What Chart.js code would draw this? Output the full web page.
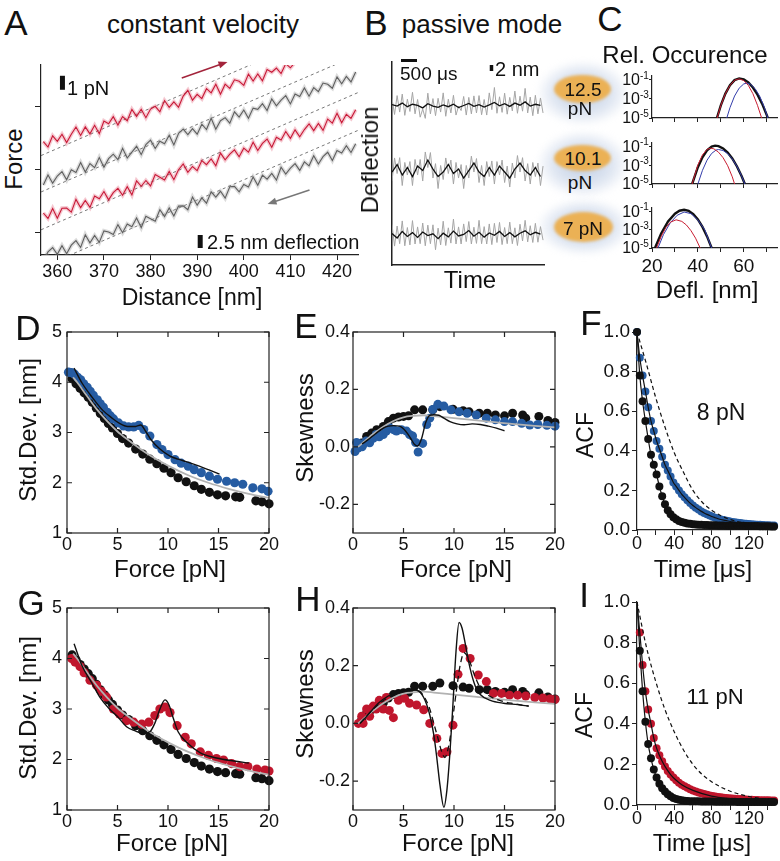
<!DOCTYPE html>
<html><head><meta charset="utf-8">
<script src="https://cdn.jsdelivr.net/npm/chart.js@4.4.0/dist/chart.umd.min.js"></script>
<style>
html,body{margin:0;padding:0;background:#fff;}
#wrap{position:relative;width:780px;height:861px;overflow:hidden;background:#fff;font-family:'Liberation Sans',Arial,sans-serif;color:#111;}
canvas{position:absolute;z-index:2;}
.t{position:absolute;white-space:nowrap;line-height:1;transform:translate(-50%,-50%);z-index:5;}
.t.l{transform:translate(0,-50%);}
.t.r{transform:translate(-50%,-50%) rotate(-90deg);}
.glow{position:absolute;border-radius:50%;z-index:1;background:radial-gradient(closest-side,rgba(188,203,226,0.95),rgba(205,216,234,0.65) 62%,rgba(255,255,255,0) 100%);filter:blur(3px);}
.org{position:absolute;border-radius:50%;z-index:1;background:#ebb155;filter:blur(1.5px);}
</style></head><body><div id="wrap"></div>
<script>
// ---------------- DATA ----------------
// Panel A (constant velocity), distance [nm] and force [pN]
const distA=[357,358,359,360,361,362,363,364,365,366,367,368,369,370,371,372,373,374,375,376,377,378,379,380,381,382,383,384,385,386,387,388,389,390,391,392,393,394,395,396,397,398,399,400,401,402,403,404,405,406,407,408,409,410,411,412,413,414,415,416,417,418,419,420,421,422,423,424];
const traceA1=[8.1,7.71,8.51,8.12,8.62,8.03,8.63,9.14,8.54,9.15,8.65,9.26,8.66,9.57,9.37,9.88,9.28,9.89,9.59,10.4,9.9,10.41,9.81,10.42,10.62,10.23,11.03,10.54,10.94,10.55,11.35,11.76,11.06,11.47,11.17,11.88,11.58,12.19,11.49,12.2,11.9,12.51,12.41,12.12,12.92,12.43,12.93,12.44,13.24,13.05,13.35,12.96,13.66,13.37,13.77];
const traceA2=[5.0,5.71,5.13,5.64,5.95,5.37,6.08,5.89,6.6,5.92,6.53,6.24,6.96,6.27,6.88,7.2,6.81,7.62,6.93,7.35,7.76,7.17,7.89,8.2,7.61,8.13,7.94,8.55,7.86,8.68,8.99,8.6,9.02,8.63,9.34,8.96,9.77,8.98,9.59,9.81,9.42,10.23,9.85,10.36,9.77,10.49,10.4,10.81,10.32,11.14,10.65,11.06,11.38,10.79,11.5,11.32,11.93,11.34,11.95,11.67,12.28,12.19,11.91,12.72,12.23,12.75,12.36,13.07];
const traceA3=[3.0,2.61,3.32,2.63,3.34,3.35,3.06,3.97,3.38,3.89,3.4,4.21,4.02,4.53,3.94,4.45,4.76,4.27,4.88,4.29,5.3,4.91,5.32,4.93,5.74,5.55,5.36,5.97,5.38,6.09,6.5,5.91,6.32,6.03,6.74,6.45,6.86,6.37,7.28,6.79,7.2,7.51,7.02,7.63,7.34,8.05,7.46,7.97,8.28,7.69,8.4,8.21,8.82,8.33,8.94,8.45,8.96,9.37,8.88,9.39,8.9,9.71,9.42,10.13,9.44,10.05,9.76,10.37];
const traceA4=[-0.4,0.22,0.53,0.05,0.67,0.09,0.7,1.02,0.54,1.45,0.87,1.39,0.9,1.72,1.64,1.46,2.17,1.59,2.21,2.02,2.64,1.96,2.77,2.59,2.41,3.23,2.74,3.36,2.78,3.49,3.51,3.23,4.14,3.56,4.08,3.7,4.51,4.13,4.55,4.06,4.88,4.9,4.51,5.03,4.85,5.57,4.98,5.7,5.42,5.83,5.35,6.27,5.78,6.2,6.52,6.04,6.65,6.37,7.09,6.5,7.02,7.34,6.75,7.47,7.29,7.81,7.32,7.94];
const dashXA=[356.5,424.5];
const dashA1=[7.1,16.9], dashA2=[4.5,14.3], dashA3=[1.8,11.6], dashA4=[-0.9,8.9];
const ticksXA=[360,370,380,390,400,410,420];
const ticksYA=[1.6,6.1,10.6];
const barPN_X=[361.1,361.1], barPN_Y=[11.8,12.8];
const barDefl_X=[390.65,390.65], barDefl_Y=[0.5,1.43];

// Panel B (passive mode), time [us] and deflection [nm]
const timeGrayB=[0,80,160,240,320,400,480,560,640,720,800,880,960,1040,1120,1200,1280,1360,1440,1520,1600,1680,1760,1840,1920,2000,2080,2160,2240,2320,2400,2480,2560,2640,2720,2800,2880,2960,3040,3120,3200,3280,3360,3440,3520,3600,3680,3760,3840,3920,4000,4080,4160,4240,4320,4400,4480,4560,4640,4720];
const timeBlackB=[0,160,320,480,640,800,960,1120,1280,1440,1600,1760,1920,2080,2240,2400,2560,2720,2880,3040,3200,3360,3520,3680,3840,4000,4160,4320,4480,4640];
const grayB1=[55.5,50.2,56.5,51.0,57.0,49.9,55.3,51.2,57.6,50.4,55.2,49.3,52.0,48.9,57.3,50.4,55.5,49.8,55.6,51.0,57.4,49.6,55.3,50.7,56.6,50.0,53.0,51.5,56.2,50.0,55.9,50.4,56.4,50.7,56.5,50.1,55.2,50.0,57.4,51.8,59.2,50.6,56.1,50.9,57.3,50.3,55.9,51.4,58.0,50.6,56.3,51.3,58.9,50.7,56.0,49.8,56.6,50.4,55.7,50.7];
const blackB1=[53.5,53.0,54.0,52.8,53.6,53.2,52.4,53.8,53.0,52.6,53.4,52.8,53.6,52.5,53.2,53.9,52.9,53.5,52.7,53.4,54.2,53.1,53.8,52.9,54.0,53.3,54.4,53.0,53.6,53.2];
const grayB2=[28.0,35.7,30.5,35.8,26.5,34.2,30.0,34.5,26.5,35.2,30.0,35.2,28.0,37.7,32.5,37.5,29.0,33.8,25.5,33.2,28.5,35.7,30.5,35.0,27.0,34.2,29.0,33.5,25.5,33.2,29.0,36.3,31.0,35.5,27.5,33.2,26.5,34.5,29.5,34.7,27.0,34.5,30.0,35.0,27.5,33.0,26.0,34.0,29.0,36.5,31.0,35.8,28.0,33.8,27.0,34.2,29.5,34.0,26.5,33.0];
const blackB2=[31.0,33.5,30.0,32.5,29.5,33.0,31.5,35.0,32.0,29.5,31.0,33.5,30.5,32.0,29.0,31.5,34.0,31.0,29.5,32.5,30.0,33.0,31.0,29.0,32.0,34.0,31.5,30.0,32.5,29.5];
const grayB3=[13.5,6.3,13.0,7.1,14.7,6.4,12.5,6.7,14.8,7.0,12.7,7.1,14.0,6.4,13.3,7.1,13.4,5.1,12.3,6.7,14.6,6.5,12.4,7.3,15.3,7.0,12.7,7.0,13.7,7.8,14.5,7.0,12.6,7.2,14.9,7.1,12.8,7.0,13.7,6.8,13.9,7.5,14.2,6.8,12.5,7.1,14.3,7.1,12.4,6.5,13.6,8.0,14.9,7.7,13.1,7.5,13.9,7.6,12.8,8.3];
const blackB3=[10.5,9.0,11.2,9.5,10.8,9.2,11.0,9.8,10.4,8.8,10.6,9.4,11.3,9.7,10.2,11.5,9.6,10.9,9.3,10.7,9.9,11.2,9.5,10.8,9.4,10.6,11.4,10.1,10.9,10.3];
const bar500_X=[281,781], bar500_Y=[68.2,68.2];
const bar2nm_X=[3109,3109], bar2nm_Y=[64.7,66.7];

// Panel C (relative occurrence vs deflection [nm])
const cTicksX=[20,30,40,50,60,70];
const cTickVals=[1e-1,1e-3,1e-5], cTickExp=['-1','-3','-5'];
const c1BlackX=[48.3,50,52,54,56,58,60,62,64,66,68,70,70.5];
const c1BlackY=[1e-5,2.1e-4,3.6e-3,0.027,0.093,0.141,0.11,0.054,0.0155,2.8e-3,3.2e-4,2.1e-5,1e-5];
const c1RedX=[48.4,50,52,54,56,58,60,62,64,66,67.8];
const c1RedY=[1e-5,2e-4,3.5e-3,0.026,0.09,0.126,0.085,0.026,3.5e-3,2.1e-4,1e-5];
const c1BlueX=[52.6,54,56,58,60,61.3,63,65,67,69,70.5];
const c1BlueY=[1e-5,1.2e-4,2e-3,0.0133,0.037,0.0447,0.034,0.0114,1.8e-3,1.3e-4,1e-5];
const c2BlackX=[37.5,40,42,44,46,47.5,49,51,53,55,57,59,60.5];
const c2BlackY=[1e-5,6.3e-4,7.4e-3,0.041,0.105,0.13,0.115,0.066,0.024,5.5e-3,8e-4,7.6e-5,1e-5];
const c2RedX=[37.5,40,42,44,45.5,47,49,51,53,55,56];
const c2RedY=[1e-5,1.1e-3,0.013,0.052,0.07,0.059,0.026,6.6e-3,9.1e-4,5.9e-5,1e-5];
const c2BlueX=[40,42,44,46,48,49,51,53,55,57,59,60.5];
const c2BlueY=[1e-5,2.9e-4,3.6e-3,0.019,0.045,0.05,0.039,0.018,4.9e-3,8.1e-4,8e-5,1e-5];
const c3BlackX=[21.3,24,27,30,32,34,36,38,40,42,44,46];
const c3BlackY=[1e-5,4e-4,8.3e-3,0.06,0.125,0.158,0.12,0.054,0.014,2.1e-3,1.9e-4,1e-5];
const c3RedX=[22,24,26,28,30.5,33,35,37,39,41];
const c3RedY=[1e-5,1.9e-4,1.7e-3,6.8e-3,0.0126,8.4e-3,3.4e-3,8e-4,1.2e-4,1e-5];
const c3BlueX=[22.6,25,28,31,34,37,40,43,46];
const c3BlueY=[1e-5,3e-4,6e-3,0.04,0.09,0.06,0.012,1e-3,1e-5];

// Panels D / G : standard deviation [nm] vs force [pN]
const forceBlack=[0.5,0.9,1.3,1.7,2.1,2.5,2.9,3.3,3.7,4.1,4.5,5.0,5.5,6.1,6.8,7.5,8.2,8.9,9.6,10.3,11.0,11.8,12.6,13.3,14.1,14.9,15.7,16.7,17.1,18.7,19.3,20.0];
const sdBlack=[4.07,3.97,3.88,3.79,3.7,3.6,3.49,3.38,3.28,3.18,3.09,2.98,2.88,2.79,2.67,2.57,2.47,2.38,2.29,2.2,2.1,2.02,1.94,1.87,1.81,1.76,1.74,1.72,1.71,1.64,1.62,1.58];
const forceFit=[0.6,1,2,3,4,5,6,8,10,12,14,16,18,20];
const sdFit=[4.1,4.0,3.72,3.45,3.22,3.02,2.86,2.57,2.34,2.15,2.0,1.88,1.78,1.7];
const forceBlueD=[0.15,0.45,0.75,1.05,1.35,1.65,2.0,2.3,2.6,3.0,3.3,3.6,4.0,4.3,4.6,5.1,5.6,6.1,6.6,7.1,7.6,8.2,8.9,9.4,10.0,10.7,11.3,12.0,12.6,13.3,14.1,14.9,15.8,16.6,17.4,18.4,19.3,19.9];
const sdBlueD=[4.2,4.19,4.16,4.1,4.05,3.97,3.9,3.82,3.74,3.65,3.57,3.5,3.4,3.33,3.27,3.19,3.13,3.11,3.11,3.14,3.06,2.93,2.76,2.66,2.56,2.46,2.39,2.33,2.26,2.2,2.13,2.07,2.03,2.0,1.97,1.9,1.88,1.83];
const forceModelD=[0.7,1.5,2.5,3.5,4.5,5.2,6.0,6.8,7.3,7.8,8.3,9.2,10.2,11.0,11.8,13.1,14.0,15.1];
const sdModelD=[4.28,3.98,3.7,3.45,3.28,3.18,3.12,3.12,3.15,3.02,2.86,2.67,2.53,2.47,2.42,2.33,2.26,2.17];
const forceRedG=[0.46,0.8,1.29,1.7,2.28,2.94,3.4,3.9,4.6,5.2,5.9,6.6,7.4,8.1,8.7,9.2,9.7,10.2,10.9,11.7,12.3,13.2,14.0,14.8,15.5,16.3,17.1,17.9,18.8,19.6,20.0];
const sdRedG=[4.0,3.93,3.84,3.72,3.57,3.47,3.35,3.24,3.0,2.9,2.77,2.74,2.7,2.74,2.87,3.0,3.04,2.93,2.67,2.44,2.31,2.15,2.08,2.02,1.99,1.92,1.86,1.86,1.81,1.79,1.77];
const forceModelG=[0.7,1.5,2.5,3.3,4.2,5.0,5.9,6.7,7.5,8.2,8.7,9.2,9.7,10.1,10.5,11.0,11.9,13.2,14.8,16.5,18.0];
const sdModelG=[4.29,3.85,3.5,3.22,3.0,2.85,2.65,2.57,2.52,2.55,2.72,3.0,3.18,3.08,2.83,2.55,2.33,2.13,2.03,1.97,1.93];
const ticksForce=[0,5,10,15,20];
const ticksSD=[1,2,3,4,5];

// Panels E / H : skewness vs force [pN]
const forceSkBlack=[0.86,1.35,1.85,2.35,3.0,3.5,4.0,4.5,5.0,5.5,6.1,6.9,7.9,8.6,9.9,10.9,11.5,12.5,13.3,14.1,15.0,15.8,16.8,17.1,18.4,19.3,20.0];
const skBlack=[0.013,0.036,0.048,0.06,0.071,0.088,0.1,0.104,0.106,0.108,0.129,0.129,0.129,0.14,0.131,0.126,0.122,0.117,0.117,0.111,0.108,0.117,0.111,0.1,0.106,0.092,0.085];
const forceSkBlue=[0.2,0.35,0.5,0.7,0.9,1.0,1.3,1.65,2.0,2.3,2.6,3.0,3.3,3.6,4.0,4.3,4.8,5.3,5.6,5.9,6.2,6.45,6.9,7.3,7.6,7.9,8.4,9.0,9.7,10.5,11.3,12.2,13.2,14.1,15.0,15.8,16.7,17.5,18.3,19.2,20.0];
const skBlue=[-0.016,0.015,-0.004,0.01,0.0,0.008,0.02,0.014,0.03,0.043,0.035,0.043,0.055,0.067,0.06,0.055,0.06,0.055,0.043,0.038,0.015,-0.018,0.012,0.078,0.1,0.13,0.148,0.142,0.129,0.122,0.117,0.111,0.1,0.094,0.088,0.088,0.082,0.076,0.078,0.075,0.072];
const forceModelE=[0.9,1.5,2.2,3.0,3.5,4.0,4.6,5.2,5.7,6.1,6.4,6.8,7.2,7.6,8.0,8.5,9.0,9.6,10.3,11.0,11.8,12.6,13.4,14.2,15.0];
const skModelE=[0.01,0.025,0.045,0.065,0.072,0.074,0.072,0.055,0.03,0.008,0.003,0.03,0.085,0.11,0.112,0.11,0.1,0.088,0.08,0.077,0.08,0.078,0.072,0.065,0.056];
const forceSkFit=[0.5,1,2,3,4,5,6,7,8,10,12,14,16,18,20];
const skFit=[0.0,0.015,0.045,0.07,0.09,0.103,0.108,0.11,0.107,0.1,0.093,0.086,0.079,0.073,0.068];
const forceRedH=[0.53,0.86,1.0,1.35,1.65,2.0,2.3,2.6,3.0,3.3,3.6,4.0,4.5,5.1,5.6,6.3,7.0,7.6,8.3,8.8,9.3,9.9,10.4,10.9,11.6,12.4,13.2,13.9,14.7,15.5,16.3,17.1,18.0,18.8,19.5,20.0];
const skRedH=[0.0,0.025,0.0,0.05,0.025,0.06,0.05,0.08,0.05,0.09,0.045,0.02,0.08,0.087,0.07,0.064,0.047,0.0,-0.052,-0.104,-0.098,-0.006,0.17,0.26,0.225,0.168,0.145,0.104,0.104,0.098,0.098,0.095,0.09,0.088,0.085,0.083];
const forceModelH=[0.7,1.5,2.5,3.5,4.5,5.5,6.3,7.0,7.6,8.0,8.3,8.6,9.0,9.3,9.6,9.9,10.2,10.5,10.8,11.2,11.6,12.1,12.6,13.6,14.9,16.3,17.4];
const skModelH=[0.0,0.03,0.07,0.095,0.11,0.117,0.115,0.09,0.03,-0.04,-0.12,-0.21,-0.29,-0.23,-0.1,0.07,0.25,0.35,0.33,0.26,0.19,0.13,0.1,0.08,0.07,0.065,0.06];
const forceDashH=[0.7,2.0,3.5,5.0,6.3,7.0,7.6,8.0,8.4,8.8,9.1,9.4,9.7,10.0,10.3,10.6,11.0,11.5,12.0,12.5,13.3,14.5,16.0,17.4];
const skDashH=[0.0,0.05,0.09,0.11,0.115,0.095,0.05,0.0,-0.05,-0.1,-0.118,-0.09,-0.03,0.05,0.13,0.2,0.245,0.22,0.17,0.13,0.1,0.08,0.068,0.06];
const ticksSk=[-0.2,0,0.2,0.4];

// Panels F / I : autocorrelation vs time [us]
const timeACF=[0,3,6,9,12,15,18,21,24,27,30,33,36,39,42,45,48,51,54,57,60,63,66,69,72,75,78,81,84,87,90,93,96,99,102,105,108,111,114,117,120,123,126,129,132,135,138,141,144,147];
const acfBlackF=[1.0,0.78,0.65,0.55,0.46,0.38,0.33,0.28,0.22,0.17,0.13,0.1,0.08,0.065,0.054,0.046,0.04,0.036,0.033,0.031,0.029,0.028,0.027,0.026,0.025,0.025,0.024,0.024,0.024,0.023,0.023,0.023,0.022,0.022,0.022,0.021,0.021,0.021,0.021,0.02,0.02,0.02,0.02,0.02,0.019,0.019,0.019,0.019,0.018,0.018];
const acfBlueF=[1.0,0.87,0.78,0.7,0.62,0.55,0.5,0.45,0.41,0.37,0.33,0.3,0.27,0.24,0.22,0.2,0.18,0.165,0.15,0.136,0.124,0.113,0.103,0.094,0.086,0.079,0.073,0.067,0.062,0.057,0.053,0.05,0.047,0.044,0.041,0.039,0.037,0.035,0.033,0.031,0.03,0.029,0.028,0.027,0.026,0.025,0.024,0.024,0.023,0.023];
const timeACFI=[3,6,9,12,15,18,21,24,27,30,33,36,39,42,45,48,51,54,57,60,63,66,69,72,75,78,81,84,87,90,93,96,99,102,105,108,111,114,117,120,123,126,129,132,135,138,141,144,147];
const acfBlackI=[0.76,0.56,0.41,0.3,0.23,0.175,0.135,0.105,0.083,0.066,0.053,0.043,0.035,0.03,0.026,0.023,0.021,0.02,0.019,0.018,0.018,0.018,0.017,0.017,0.017,0.017,0.017,0.016,0.016,0.016,0.016,0.016,0.016,0.016,0.016,0.015,0.015,0.015,0.015,0.015,0.015,0.015,0.015,0.015,0.015,0.015,0.015,0.015,0.015];
const acfRedI=[0.85,0.69,0.56,0.47,0.4,0.33,0.28,0.245,0.215,0.19,0.168,0.15,0.135,0.122,0.11,0.1,0.092,0.085,0.078,0.072,0.067,0.062,0.058,0.054,0.05,0.047,0.044,0.042,0.04,0.038,0.036,0.034,0.033,0.032,0.031,0.03,0.029,0.028,0.027,0.026,0.026,0.025,0.025,0.024,0.024,0.023,0.023,0.022,0.022];
const timeModelI=[0,3,6,9,12,15,18,21,24,27,30,36,42,48,60,80,100,120,147];
const modelBlackI=[1.0,0.76,0.56,0.41,0.3,0.23,0.175,0.135,0.105,0.083,0.066,0.043,0.03,0.023,0.018,0.017,0.016,0.015,0.015];
const modelRedI=[1.0,0.85,0.69,0.56,0.47,0.4,0.33,0.28,0.245,0.215,0.19,0.15,0.122,0.1,0.072,0.044,0.032,0.026,0.022];
const timeDash=[0,10,20,30,40,50,60,70,80,90,100,110,120,130,140,148];
const dashF=[1.0,0.84,0.67,0.52,0.39,0.29,0.2,0.14,0.1,0.072,0.053,0.04,0.032,0.026,0.022,0.02];
const dashI=[1.0,0.78,0.61,0.47,0.36,0.27,0.2,0.15,0.115,0.088,0.068,0.053,0.042,0.034,0.028,0.025];
const ticksTime=[0,20,40,60,80,100,120,140];
const ticksACF=[0,0.2,0.4,0.6,0.8,1.0];

// ---------------- STYLE ----------------
const RED='rgb(192,22,45)', BLUE='rgb(38,92,162)', BLK='#111', GRAYFIT='rgb(178,178,178)';
const REDA='rgb(200,25,55)', REDA_BAND='rgba(220,60,90,0.28)', GRAYA='rgb(95,95,95)', GRAYA_BAND='rgba(140,140,140,0.3)';
Chart.defaults.font.family="'Liberation Sans', Arial, sans-serif";
Chart.defaults.color='#111';
const wrap=document.getElementById('wrap');
const zip=(xs,ys)=>ys.map((y,i)=>({x:xs[i],y}));

function axis(min,max,ticks,o={}){
  return {type:o.type||'linear',min,max,
    afterBuildTicks:s=>{s.ticks=ticks.map(v=>({value:v}));},
    grid:{display:true,drawOnChartArea:false,drawTicks:!!o.tl,tickLength:o.tl||0,color:'#222',lineWidth:1},
    border:{display:o.border!==false,color:'#222',width:o.bw||1.2},
    ticks:{display:!!o.labels,autoSkip:false,maxRotation:0,minRotation:0,padding:(o.pad===undefined?3:o.pad),color:'#111',
      font:{size:o.fs||18,lineHeight:1},callback:o.cb||(v=>v)}};
}
function mk(box,m,cfg){
  const c=document.createElement('canvas');
  const w=box.r-box.l+m.yW+m.pR, h=box.b-box.t+m.pT+m.xH;
  c.width=w;c.height=h;
  c.style.left=(box.l-m.yW)+'px';c.style.top=(box.t-m.pT)+'px';
  c.style.width=w+'px';c.style.height=h+'px';
  wrap.appendChild(c);
  cfg.scales.x.afterFit=s=>{s.height=m.xH;};
  cfg.scales.y.afterFit=s=>{s.width=m.yW;};
  cfg.scales.x.position='bottom';cfg.scales.y.position='left';
  return new Chart(c,{type:'scatter',data:{datasets:cfg.datasets},
    options:{responsive:false,animation:false,devicePixelRatio:1,events:[],
      layout:{padding:{top:m.pT,right:m.pR,left:0,bottom:0}},
      scales:cfg.scales,plugins:{legend:{display:false},tooltip:{enabled:false}}},
    plugins:cfg.plugins||[]});
}
const dots=(xs,ys,col,r)=>({data:zip(xs,ys),showLine:false,pointRadius:r||4.5,pointBackgroundColor:col,pointBorderWidth:0,clip:false});
const line=(xs,ys,col,w,o)=>Object.assign({data:zip(xs,ys),showLine:true,pointRadius:0,borderColor:col,borderWidth:w||1.2,fill:false},o||{});
const smooth={cubicInterpolationMode:'monotone'};

const boxTicks={id:'boxTicks',afterDraw(chart){
  const {ctx,chartArea:a,scales:{x,y}}=chart;const L=5;
  ctx.save();ctx.strokeStyle='#222';ctx.lineWidth=1.2;
  ctx.strokeRect(a.left,a.top,a.right-a.left,a.bottom-a.top);
  ctx.beginPath();
  x.ticks.forEach(t=>{const p=x.getPixelForValue(t.value);ctx.moveTo(p,a.top);ctx.lineTo(p,a.top+L);ctx.moveTo(p,a.bottom);ctx.lineTo(p,a.bottom-L);});
  y.ticks.forEach(t=>{const p=y.getPixelForValue(t.value);ctx.moveTo(a.left,p);ctx.lineTo(a.left+L,p);ctx.moveTo(a.right,p);ctx.lineTo(a.right-L,p);});
  ctx.stroke();ctx.restore();}};

function arrowPlugin(list){return {id:'arrows',afterDatasetsDraw(chart){
  const {ctx,scales:{x,y}}=chart;ctx.save();
  list.forEach(a=>{const x0=x.getPixelForValue(a.from[0]),y0=y.getPixelForValue(a.from[1]),x1=x.getPixelForValue(a.to[0]),y1=y.getPixelForValue(a.to[1]);
    const ang=Math.atan2(y1-y0,x1-x0),L=9,W=3.5;
    ctx.strokeStyle=a.color;ctx.fillStyle=a.color;ctx.lineWidth=1.5;
    ctx.beginPath();ctx.moveTo(x0,y0);ctx.lineTo(x1-L*0.7*Math.cos(ang),y1-L*0.7*Math.sin(ang));ctx.stroke();
    ctx.beginPath();ctx.moveTo(x1,y1);
    ctx.lineTo(x1-L*Math.cos(ang)+W*Math.sin(ang),y1-L*Math.sin(ang)-W*Math.cos(ang));
    ctx.lineTo(x1-L*Math.cos(ang)-W*Math.sin(ang),y1-L*Math.sin(ang)+W*Math.cos(ang));ctx.closePath();ctx.fill();});
  ctx.restore();}};}

function supPlugin(vals,exps){return {id:'sup',afterDraw(chart){
  const {ctx,chartArea:a,scales:{y}}=chart;ctx.save();ctx.fillStyle='#111';
  vals.forEach((v,i)=>{const p=y.getPixelForValue(v);
    ctx.font="16px 'Liberation Sans', Arial";ctx.textAlign='right';ctx.textBaseline='middle';ctx.fillText('10',a.left-12,p+1);
    ctx.font="10px 'Liberation Sans', Arial";ctx.textAlign='left';ctx.fillText(exps[i],a.left-12,p-4);});
  ctx.restore();}};}

// ---------------- PANEL A ----------------
mk({l:41,t:65,r:358,b:255},{yW:12,xH:30,pT:12,pR:25},{
  datasets:[
    line(barPN_X,barPN_Y,BLK,5,{clip:false,borderCapStyle:'butt'}),
    line(barDefl_X,barDefl_Y,BLK,5,{clip:false,borderCapStyle:'butt'}),
    line(distA,traceA1,REDA,1.1),
    line(distA,traceA2,GRAYA,1.1),
    line(distA,traceA3,REDA,1.1),
    line(distA,traceA4,GRAYA,1.1),
    line(distA,traceA1,REDA_BAND,4),
    line(distA,traceA2,GRAYA_BAND,4),
    line(distA,traceA3,REDA_BAND,4),
    line(distA,traceA4,GRAYA_BAND,4),
    line(dashXA,dashA1,'#555',0.8,{borderDash:[3,3]}),
    line(dashXA,dashA2,'#555',0.8,{borderDash:[3,3]}),
    line(dashXA,dashA3,'#555',0.8,{borderDash:[3,3]}),
    line(dashXA,dashA4,'#555',0.8,{borderDash:[3,3]})],
  scales:{x:axis(356.5,424.5,ticksXA,{tl:5,labels:true,pad:3,fs:18}),y:axis(0,13.57,ticksYA,{tl:6})},
  plugins:[arrowPlugin([{from:[386.7,12.64],to:[396.5,13.79],color:'rgb(163,36,59)'},{from:[414.1,4.64],to:[405.1,3.64],color:'#777'}])]
});

// ---------------- PANEL B ----------------
mk({l:392,t:62,r:544,b:265},{yW:6,xH:6,pT:10,pR:6},{
  datasets:[
    line(bar500_X,bar500_Y,BLK,3,{clip:false,borderCapStyle:'butt'}),
    line(bar2nm_X,bar2nm_Y,BLK,3.5,{clip:false,borderCapStyle:'butt'}),
    line(timeBlackB,blackB1,BLK,1.3),line(timeBlackB,blackB2,BLK,1.3),line(timeBlackB,blackB3,BLK,1.3),
    line(timeGrayB,grayB1,'rgb(165,165,165)',1),line(timeGrayB,grayB2,'rgb(165,165,165)',1),line(timeGrayB,grayB3,'rgb(165,165,165)',1)],
  scales:{x:axis(0,4750,[],{bw:1.5}),y:axis(0,67.7,[],{bw:1.5})}
});

// ---------------- PANEL C ----------------
function cChart(t,b,bx,by,rx,ry,ux,uy,showX){
  mk({l:652,t,r:777,b},{yW:45,xH:showX?32:8,pT:6,pR:3},{
    datasets:[line(rx,ry,'rgb(200,30,50)',1),line(ux,uy,'rgb(50,60,170)',1),line(bx,by,BLK,2.4)],
    scales:{x:axis(20,74.5,cTicksX,{tl:4,labels:showX,pad:5,fs:19,cb:v=>(v%20===0?v:'')}),
            y:axis(1e-5,0.25,cTickVals,{type:'logarithmic',tl:3})},
    plugins:[supPlugin(cTickVals,cTickExp)]});
}
cChart(76,118,c1BlackX,c1BlackY,c1RedX,c1RedY,c1BlueX,c1BlueY,false);
cChart(143,184,c2BlackX,c2BlackY,c2RedX,c2RedY,c2BlueX,c2BlueY,false);
cChart(208,248,c3BlackX,c3BlackY,c3RedX,c3RedY,c3BlueX,c3BlueY,true);

// ---------------- PANELS D / G ----------------
const sdScales=()=>({x:axis(0,20,ticksForce,{labels:true,pad:3,border:false}),y:axis(1,5,ticksSD,{labels:true,pad:5,border:false})});
mk({l:67,t:332,r:269,b:533},{yW:40,xH:30,pT:14,pR:20},{
  datasets:[line(forceModelD,sdModelD,BLK,1.4,smooth),line(forceFit,sdFit,GRAYFIT,1.8,smooth),
    dots(forceBlueD,sdBlueD,BLUE,4.6),dots(forceBlack,sdBlack,BLK,4.6)],
  scales:sdScales(),plugins:[boxTicks]});
mk({l:67,t:608,r:269,b:810},{yW:40,xH:30,pT:14,pR:20},{
  datasets:[line(forceModelG,sdModelG,BLK,1.4,smooth),line(forceFit,sdFit,GRAYFIT,1.8,smooth),
    dots(forceRedG,sdRedG,RED,4.6),dots(forceBlack,sdBlack,BLK,4.6)],
  scales:sdScales(),plugins:[boxTicks]});

// ---------------- PANELS E / H ----------------
const skScales=()=>({x:axis(0,20,ticksForce,{labels:true,pad:3,border:false}),y:axis(-0.3,0.4,ticksSk,{labels:true,pad:3,border:false,cb:v=>v.toFixed(1)})});
mk({l:353,t:332,r:555,b:533},{yW:45,xH:30,pT:14,pR:20},{
  datasets:[line(forceModelE,skModelE,BLK,1.4,smooth),line(forceSkFit,skFit,GRAYFIT,1.8,smooth),
    dots(forceSkBlue,skBlue,BLUE,4.5),dots(forceSkBlack,skBlack,BLK,4.5)],
  scales:skScales(),plugins:[boxTicks]});
mk({l:353,t:608,r:555,b:810},{yW:45,xH:30,pT:14,pR:20},{
  datasets:[line(forceModelH,skModelH,BLK,1.4,smooth),line(forceDashH,skDashH,BLK,1.3,Object.assign({borderDash:[6,4]},smooth)),
    line(forceSkFit,skFit,GRAYFIT,1.8,smooth),dots(forceRedH,skRedH,RED,4.5),dots(forceSkBlack,skBlack,BLK,4.5)],
  scales:skScales(),plugins:[boxTicks]});

// ---------------- PANELS F / I ----------------
const acfScales=()=>({x:axis(0,148,ticksTime,{tl:5,labels:true,pad:0,fs:18,cb:v=>(v%40===0?v:'')}),
  y:axis(0,1,ticksACF,{tl:5,labels:true,pad:2,fs:19,cb:v=>v.toFixed(1)})});
mk({l:637,t:332,r:775,b:530},{yW:45,xH:30,pT:14,pR:5},{
  datasets:[line(timeACF,acfBlackF,BLK,1.2,smooth),line(timeACF,acfBlueF,BLK,1.2,smooth),
    line(timeDash,dashF,BLK,1.2,Object.assign({borderDash:[4,3]},smooth)),
    dots(timeACF,acfBlackF,BLK,4),dots(timeACF,acfBlueF,BLUE,4)],
  scales:acfScales()});
mk({l:637,t:602,r:775,b:805},{yW:45,xH:30,pT:14,pR:5},{
  datasets:[line(timeModelI,modelBlackI,BLK,1.2,smooth),line(timeModelI,modelRedI,BLK,1.2,smooth),
    line(timeDash,dashI,BLK,1.2,Object.assign({borderDash:[4,3]},smooth)),
    dots(timeACFI,acfBlackI,BLK,4),dots(timeACFI,acfRedI,RED,4)],
  scales:acfScales()});

// ---------------- TEXT ----------------
function T(txt,x,y,size,cls){const d=document.createElement('div');d.className='t'+(cls?' '+cls:'');d.innerHTML=txt;
  d.style.left=x+'px';d.style.top=y+'px';d.style.fontSize=size+'px';wrap.appendChild(d);}
function badge(ox,oy,ow,oh,gx,gy,gw,gh){const g=document.createElement('div');g.className='glow';
  g.style.cssText+=`left:${gx}px;top:${gy}px;width:${gw}px;height:${gh}px`;wrap.appendChild(g);
  const o=document.createElement('div');o.className='org';o.style.cssText+=`left:${ox}px;top:${oy}px;width:${ow}px;height:${oh}px`;wrap.appendChild(o);}
badge(554,75,57,28,536,60,94,66);
badge(554,145,57,26,536,130,94,68);
badge(554,212,59,30,536,198,96,58);

T('A',16,22,35);T('constant velocity',203,24,26);T('B',376,22,35);T('passive mode',482,24,26);T('C',610,18,35);
T('Force',14,159,24,'r');T('1 pN',67,88,20,'l');T('2.5 nm deflection',207,242,20,'l');T('Distance [nm]',192,297,23);
T('Deflection',370,160,24,'r');T('Time',470,280,24);T('500 μs',400,73,19,'l');T('2 nm',495,69,20,'l');
T('Rel. Occurence',685,55,24);T('Defl. [nm]',707,290,24);
T('12.5',583,89,19);T('pN',580,108,19);T('10.1',583,158,19);T('pN',580,182,19);T('7 pN',583,228,19);
T('D',28,327,35);T('Std.Dev. [nm]',28,430,24,'r');T('Force [pN]',170,569,24);
T('E',306,325,35);T('Skewness',305,428,24,'r');T('Force [pN]',456,569,24);
T('F',591,322,35);T('ACF',585,435,23,'r');T('8 pN',721,412,23);T('Time [μs]',703,569,24);
T('G',31,602,35);T('Std.Dev. [nm]',28,708,24,'r');T('Force [pN]',172,843,24);
T('H',308,598,35);T('Skewness',305,704,24,'r');T('Force [pN]',458,843,24);
T('I',584,594,35);T('ACF',584,715,23,'r');T('11 pN',715,697,22);T('Time [μs]',702,843,24);
</script></body></html>
